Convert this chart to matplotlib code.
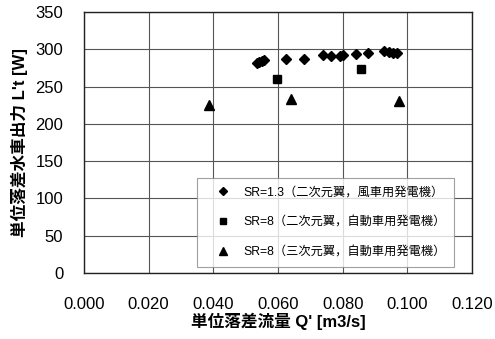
import matplotlib
matplotlib.use("Agg")
import matplotlib.pyplot as plt

plt.rcParams['font.family'] = ['Liberation Sans', 'Noto Sans CJK JP', 'DejaVu Sans']

# SR=1.3 (2D blade, wind turbine generator)
q_sr13 = [0.0534, 0.0542, 0.0550, 0.0557, 0.0626, 0.0680, 0.0739, 0.0763,
          0.0791, 0.0801, 0.0842, 0.0877, 0.0929, 0.0943, 0.0955, 0.0967]
p_sr13 = [282.0, 283.0, 283.9, 285.6, 287.0, 286.6, 292.3, 290.6,
          291.4, 292.0, 293.7, 295.0, 297.3, 296.4, 295.4, 295.0]
# SR=8 (2D blade, car alternator)
q_sr8_2d = [0.0596, 0.0856]
p_sr8_2d = [259.7, 273.2]
# SR=8 (3D blade, car alternator)
q_sr8_3d = [0.0387, 0.0640, 0.0973]
p_sr8_3d = [225.3, 233.3, 230.7]

labels = ['SR=1.3（二次元翼，風車用発電機）',
          'SR=8（二次元翼，自動車用発電機）',
          'SR=8（三次元翼，自動車用発電機）']

fig = plt.figure(figsize=(4.95, 3.39), dpi=100)
ax = fig.add_axes([84 / 495, 1 - 273 / 339, 388 / 495, 261 / 339])

ax.plot(q_sr13, p_sr13, 'kD', markersize=5, linestyle='none', label=labels[0])
ax.plot(q_sr8_2d, p_sr8_2d, 'ks', markersize=6, linestyle='none', label=labels[1])
ax.plot(q_sr8_3d, p_sr8_3d, 'k^', markersize=7, linestyle='none', label=labels[2])

ax.set_xlim(0, 0.12)
ax.set_ylim(0, 350)
ax.set_xticks([0, 0.02, 0.04, 0.06, 0.08, 0.10, 0.12])
ax.set_xticklabels(['0.000', '0.020', '0.040', '0.060', '0.080', '0.100', '0.120'])
ax.set_yticks(range(0, 351, 50))
ax.tick_params(length=0, labelsize=12)
ax.tick_params(axis='x', pad=17)
ax.tick_params(axis='y', pad=15)
ax.grid(True, color='#555555', linewidth=0.8)
ax.set_axisbelow(True)
for s in ax.spines.values():
    s.set_color('#222222')
    s.set_linewidth(1.0)

ax.set_xlabel("単位落差流量 Q' [m3/s]", fontsize=12, fontweight='bold', labelpad=1)
ax.set_ylabel("単位落差水車出力 L't [W]", fontsize=12, fontweight='bold', labelpad=5)

leg = ax.legend(loc='lower right', bbox_to_anchor=(454 / 495, 1 - 267 / 339),
                bbox_transform=fig.transFigure, fontsize=8.8, frameon=True,
                fancybox=False, edgecolor='#888888', borderpad=0.7,
                borderaxespad=0, labelspacing=1.48, handletextpad=0.2,
                handlelength=2.85, markerscale=0.8)
leg.get_frame().set_linewidth(0.8)

fig.savefig('out.png', dpi=100)
